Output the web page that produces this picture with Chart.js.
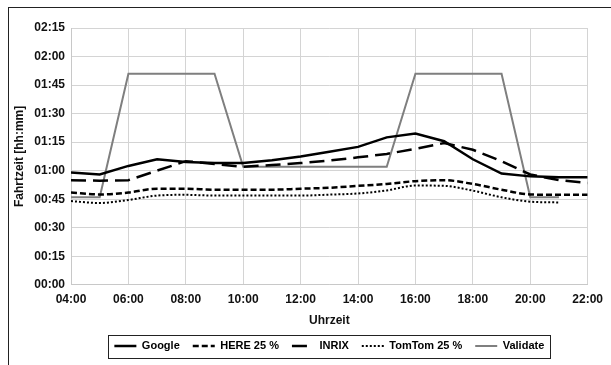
<!DOCTYPE html>
<html>
<head>
<meta charset="utf-8">
<script src="https://cdn.jsdelivr.net/npm/chart.js@4.4.1/dist/chart.umd.min.js"></script>
<style>
  html, body { margin: 0; padding: 0; background: #fff; }
  #wrap { position: relative; width: 611px; height: 365px; overflow: hidden; }
  #frame { position: absolute; left: 8px; top: 7px; width: 700px; height: 500px;
           border-left: 1.5px solid #222; border-top: 1.5px solid #222; pointer-events: none; }
  canvas { position: absolute; left: 0; top: 0; }
</style>
</head>
<body>
<div id="wrap">
  <canvas id="c" width="611" height="365"></canvas>
  <div id="frame"></div>
</div>
<script>
// Hour of day for each sample (x axis)
const hours = [4, 5, 6, 7, 8, 9, 10, 11, 12, 13, 14, 15, 16, 17, 18, 19, 20, 21, 22];

// Travel time in minutes per provider
const google   = [59, 58, 62.5, 66, 64.5, 64, 64, 65.5, 67.5, 70, 72.5, 77.5, 79.5, 75.5, 66, 58.5, 57, 56.5, 56.5];
const here25   = [48.5, 47.5, 48.5, 50.5, 50.5, 50, 50, 50, 50.5, 51, 52, 53, 54.5, 55, 53, 50, 47.5, 47.3, 47.3];
const inrix    = [55, 54.7, 55, 60, 65, 63.5, 62, 63, 64, 65.3, 67, 68.8, 71.5, 74.5, 71, 65, 58, 55, 53.5];
const tomtom25 = [44, 43, 44.6, 46.9, 47.3, 46.9, 46.9, 46.9, 46.9, 47.4, 48, 49.6, 52.2, 52, 49.5, 46, 43.7, 43.3, null];
const validate = [46, 46, 111, 111, 111, 111, 62, 62, 62, 62, 62, 62, 111, 111, 111, 111, 46, 46, null];

// Axis tick settings
const yMin = 0, yMax = 135, yStep = 15;
const xMin = 4, xMax = 22, xStep = 2;

const pad2 = n => String(n).padStart(2, '0');
const fmtMinutes = m => pad2(Math.floor(m / 60)) + ':' + pad2(Math.round(m % 60));
const fmtHour = h => pad2(h) + ':00';
const points = arr => hours.map((h, i) => ({ x: h, y: arr[i] }));

Chart.defaults.font.family = "'Liberation Sans', Arial, sans-serif";
Chart.defaults.color = '#111';

// Centre the legend under the plot area and frame it with a thin box
const legendFrame = {
  id: 'legendFrame',
  afterUpdate(chart) {
    const lg = chart.legend;
    if (!lg || !lg.legendHitBoxes.length) return;
    const hb = lg.legendHitBoxes;
    const minL = Math.min(...hb.map(h => h.left));
    const maxR = Math.max(...hb.map(h => h.left + h.width));
    const ca = chart.chartArea;
    const delta = (ca.left + ca.right) / 2 - (minL + maxR) / 2;
    lg.left += delta; lg.right += delta;
    hb.forEach(h => { h.left += delta; });
  },
  afterDraw(chart) {
    const lg = chart.legend;
    if (!lg || !lg.legendHitBoxes.length) return;
    const hb = lg.legendHitBoxes;
    const minL = Math.min(...hb.map(h => h.left));
    const maxR = Math.max(...hb.map(h => h.left + h.width));
    const top = Math.min(...hb.map(h => h.top));
    const bot = Math.max(...hb.map(h => h.top + h.height));
    const ctx = chart.ctx;
    ctx.save();
    ctx.strokeStyle = '#222';
    ctx.lineWidth = 1;
    ctx.strokeRect(Math.round(minL - 6) + 0.5, Math.round(top - 6) + 0.5,
                   Math.round(maxR - minL + 12), Math.round(bot - top + 12));
    ctx.restore();
  }
};

const lineDefaults = { pointRadius: 0, pointHoverRadius: 0, fill: false, spanGaps: false };

new Chart(document.getElementById('c'), {
  type: 'line',
  data: {
    datasets: [
      Object.assign({ label: 'Google', data: points(google), borderColor: '#000', borderWidth: 2.5, borderDash: [] }, lineDefaults),
      Object.assign({ label: 'HERE 25 %', data: points(here25), borderColor: '#000', borderWidth: 2.5, borderDash: [6, 3], cubicInterpolationMode: 'monotone' }, lineDefaults),
      Object.assign({ label: 'INRIX', data: points(inrix), borderColor: '#000', borderWidth: 2.5, borderDash: [15, 7] }, lineDefaults),
      Object.assign({ label: 'TomTom 25 %', data: points(tomtom25), borderColor: '#000', borderWidth: 2, borderDash: [2, 2], cubicInterpolationMode: 'monotone' }, lineDefaults),
      Object.assign({ label: 'Validate', data: points(validate), borderColor: '#7f7f7f', borderWidth: 2, borderDash: [] }, lineDefaults)
    ]
  },
  options: {
    responsive: false,
    animation: false,
    layout: { padding: { left: 8, top: 28, right: 20.5, bottom: 3.5 } },
    plugins: {
      tooltip: { enabled: false },
      legend: {
        position: 'bottom',
        labels: {
          usePointStyle: true,
          pointStyle: 'line',
          pointStyleWidth: 22,
          padding: 13,
          color: '#000',
          font: { size: 11, weight: 'bold' },
          // legend samples reuse each line's own colour, width and dash pattern
          generateLabels: chart => chart.data.datasets.map((ds, i) => ({
            text: ds.label,
            datasetIndex: i,
            fillStyle: ds.borderColor,
            strokeStyle: ds.borderColor,
            lineWidth: ds.borderWidth,
            lineDash: ds.borderDash,
            lineCap: 'butt',
            pointStyle: 'line',
            fontColor: '#000',
            hidden: false
          }))
        }
      }
    },
    scales: {
      x: {
        type: 'linear',
        min: xMin, max: xMax,
        afterFit: s => { s.height = 42.7; },
        ticks: { stepSize: xStep, padding: 8, color: '#111', font: { size: 12, weight: 'bold' }, callback: v => fmtHour(v), maxRotation: 0 },
        grid: { color: '#d4d4d4', lineWidth: 1, drawTicks: false },
        border: { color: '#c8c8c8', width: 1 },
        title: { display: true, text: 'Uhrzeit', color: '#111', font: { size: 12, weight: 'bold' }, padding: { top: 0, bottom: 0 } }
      },
      y: {
        min: yMin, max: yMax,
        afterFit: s => { s.width = 63; },
        ticks: { stepSize: yStep, padding: 6, color: '#111', font: { size: 12, weight: 'bold' }, callback: v => fmtMinutes(v) },
        grid: { color: '#d4d4d4', lineWidth: 1, drawTicks: false },
        border: { color: '#c8c8c8', width: 1 },
        title: { display: true, text: 'Fahrtzeit [hh:mm]', color: '#111', font: { size: 12, weight: 'bold' }, padding: { top: 4, bottom: 0 } }
      }
    }
  },
  plugins: [legendFrame]
});
</script>
</body>
</html>
